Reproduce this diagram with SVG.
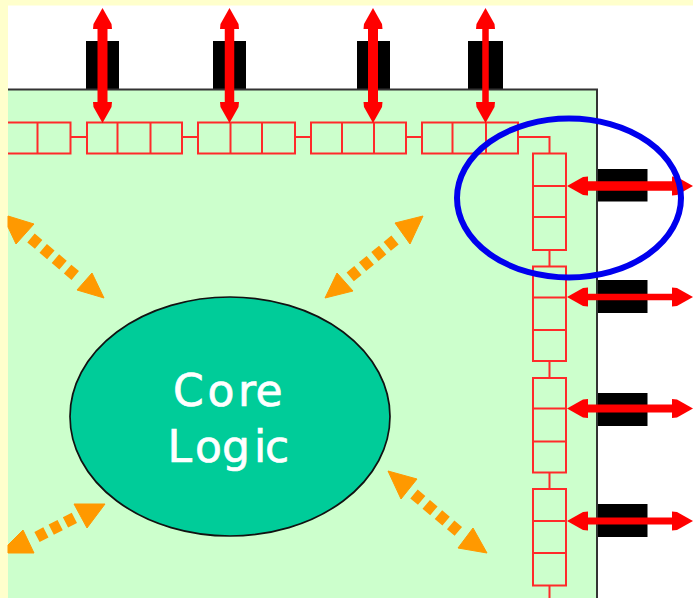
<svg xmlns="http://www.w3.org/2000/svg" width="693" height="598" viewBox="0 0 693 598">
<style>
.bg{fill:#ffffcc}
.pad{fill:#000}
.cell{fill:none;stroke:#ff2a2a;stroke-width:2}
.link{fill:none;stroke:#ff2a2a;stroke-width:2}
.io{fill:none;stroke:#f00;marker-start:url(#redHead);marker-end:url(#redHead)}
.head{fill:#ff9900;stroke:#ff9900;stroke-width:1;stroke-linejoin:round}
.dash{fill:none;stroke:#ff9900;stroke-width:11.500;stroke-dasharray:10 6}
.label{font-family:"DejaVu Sans",sans-serif;font-size:44px;fill:#fff;stroke:#fff;stroke-width:.7}
</style>
<defs>
<marker id="redHead" markerUnits="userSpaceOnUse" markerWidth="22" markerHeight="22" refX="1" refY="11" orient="auto-start-reverse" viewBox="0 0 22 22">
<path d="M0,1.500 L5,2 L13,6.500 L21,11 L13,15.500 L5,20 L0,20.500 Z" fill="#f00"/>
</marker>
</defs>
<rect width="693" height="598" fill="#fff"/>
<rect id="margin-top" class="bg" width="693" height="5.500"/>
<rect id="margin-left" class="bg" width="8" height="598"/>
<g id="pads">
<rect class="pad" x="86" y="41" width="33" height="48"/>
<rect class="pad" x="213" y="41" width="33" height="48"/>
<rect class="pad" x="357" y="41" width="33" height="48"/>
<rect class="pad" x="468" y="41" width="35" height="48"/>
<rect class="pad" x="597" y="169" width="50.500" height="32.500"/>
<rect class="pad" x="597" y="280" width="50.500" height="33"/>
<rect class="pad" x="597" y="393" width="50.500" height="33"/>
<rect class="pad" x="597" y="504" width="50.500" height="33"/>
</g>
<path id="chip" d="M8,89.500 H597 V598 H8 Z" fill="#ccffcc" stroke="none"/>
<path id="chip-edge" d="M8,89.500 H597 V598" fill="none" stroke="#333" stroke-width="2"/>
<g id="registers">
<g id="reg-top-1"><path class="cell" d="M8,122.500 H70.500 V153.500 H8 M37.500,122.500 V153.500"/></g>
<g id="reg-top-2"><rect class="cell" x="87" y="122.500" width="95" height="31"/><path class="cell" d="M117.500,122.500 V153.500 M150.500,122.500 V153.500"/></g>
<g id="reg-top-3"><rect class="cell" x="198" y="122.500" width="97" height="31"/><path class="cell" d="M230.500,122.500 V153.500 M262,122.500 V153.500"/></g>
<g id="reg-top-4"><rect class="cell" x="311" y="122.500" width="95" height="31"/><path class="cell" d="M342,122.500 V153.500 M374,122.500 V153.500"/></g>
<g id="reg-top-5"><rect class="cell" x="422" y="122.500" width="96" height="31"/><path class="cell" d="M452.500,122.500 V153.500 M486,122.500 V153.500"/></g>
<g id="reg-right-1"><rect class="cell" x="533" y="153.500" width="33" height="96.500"/><path class="cell" d="M533,186 H566 M533,217 H566"/></g>
<g id="reg-right-2"><rect class="cell" x="533" y="266.500" width="33" height="94.500"/><path class="cell" d="M533,297.500 H566 M533,330 H566"/></g>
<g id="reg-right-3"><rect class="cell" x="533" y="378" width="33" height="94.500"/><path class="cell" d="M533,408.500 H566 M533,441.500 H566"/></g>
<g id="reg-right-4"><rect class="cell" x="533" y="489" width="33" height="96.500"/><path class="cell" d="M533,521 H566 M533,553 H566"/></g>
</g>
<g id="connectors">
<path class="link" d="M70.500,137 H87 M182,137 H198 M295,137 H311 M406,137 H422 M518,137 H549.500 V153.500 M549.500,250 V266.500 M549.500,361 V378 M549.500,472.500 V489 M549.500,585.500 V598"/>
<line class="io" x1="102.500" y1="103" x2="102.500" y2="28" stroke-width="10"/>
<line class="io" x1="229.500" y1="103" x2="229.500" y2="28" stroke-width="9.500"/>
<line class="io" x1="373" y1="103" x2="373" y2="28" stroke-width="10"/>
<line class="io" x1="485.500" y1="103" x2="485.500" y2="28" stroke-width="6.500"/>
<line class="io" x1="587" y1="186" x2="673" y2="186" stroke-width="9.500"/>
<line class="io" x1="587" y1="297" x2="673" y2="297" stroke-width="6.500"/>
<line class="io" x1="587" y1="408.500" x2="673" y2="408.500" stroke-width="8"/>
<line class="io" x1="587" y1="521" x2="673" y2="521" stroke-width="7"/>
<g id="flow-top-left">
<path class="head" d="M8,216 L34,224 L16,244 L8,227 Z"/>
<path class="dash" d="M31,238 L77,277"/>
<path class="head" d="M104,298 L77,290 L92,273 Z"/>
</g>
<g id="flow-top-right">
<path class="head" d="M423,216 L395,223 L410,244 Z"/>
<path class="dash" d="M395,240 L350,277"/>
<path class="head" d="M325,298 L337,273 L353,291 Z"/>
</g>
<g id="flow-bottom-left">
<path class="head" d="M8,553 L34,553 L23,530 L8,545 Z"/>
<path class="dash" d="M37,537 L76,517"/>
<path class="head" d="M74,504 L105,504 L87,528 Z"/>
</g>
<g id="flow-bottom-right">
<path class="head" d="M388,471 L417,479 L401,499 Z"/>
<path class="dash" d="M414,494 L459,532"/>
<path class="head" d="M487,553 L473,528 L458,548 Z"/>
</g>
</g>
<g id="core-logic">
<ellipse cx="230" cy="416.500" rx="160" ry="119.500" fill="#00cc99" stroke="#111" stroke-width="1.700"/>
<text class="label" x="173 207.500 238 255.500" y="406">Core</text>
<text class="label" x="167.500 195 222 254 265" y="462">Logic</text>
</g>
<ellipse id="highlight" cx="569" cy="198" rx="112" ry="79.500" fill="none" stroke="#0000ee" stroke-width="6"/>
</svg>
